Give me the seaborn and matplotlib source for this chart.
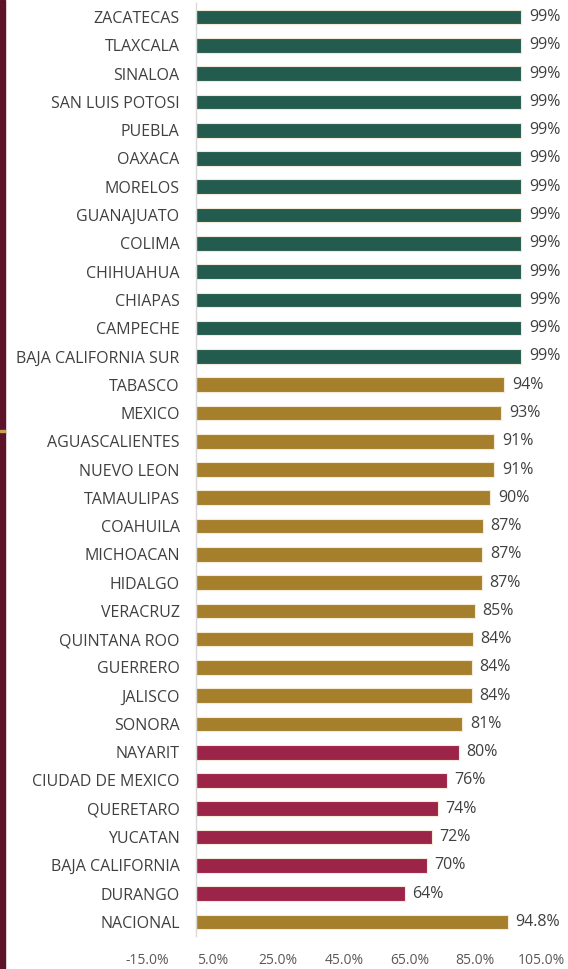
import matplotlib
matplotlib.use("Agg")
import matplotlib.pyplot as plt
import pandas as pd
import seaborn as sns
from matplotlib.patches import Rectangle
from matplotlib.ticker import FuncFormatter

states = [
    "ZACATECAS", "TLAXCALA", "SINALOA", "SAN LUIS POTOSI", "PUEBLA", "OAXACA",
    "MORELOS", "GUANAJUATO", "COLIMA", "CHIHUAHUA", "CHIAPAS", "CAMPECHE",
    "BAJA CALIFORNIA SUR", "TABASCO", "MEXICO", "AGUASCALIENTES", "NUEVO LEON",
    "TAMAULIPAS", "COAHUILA", "MICHOACAN", "HIDALGO", "VERACRUZ", "QUINTANA ROO",
    "GUERRERO", "JALISCO", "SONORA", "NAYARIT", "CIUDAD DE MEXICO", "QUERETARO",
    "YUCATAN", "BAJA CALIFORNIA", "DURANGO", "NACIONAL",
]
values = [
    99, 99, 99, 99, 99, 99, 99, 99, 99, 99, 99, 99, 99,
    93.8, 92.9, 90.8, 90.8, 89.6, 87.3, 87.1, 86.9, 84.8, 84.3, 84.0, 84.0, 81.0,
    80.0, 76.3, 73.6, 71.8, 70.3, 63.6, 94.8,
]
labels = [
    "99%", "99%", "99%", "99%", "99%", "99%", "99%", "99%", "99%", "99%", "99%", "99%", "99%",
    "94%", "93%", "91%", "91%", "90%", "87%", "87%", "87%", "85%", "84%", "84%", "84%", "81%",
    "80%", "76%", "74%", "72%", "70%", "64%", "94.8%",
]
groups = ["alto"] * 13 + ["medio"] * 13 + ["bajo"] * 6 + ["nacional"]
palette = {"alto": "#235B4E", "medio": "#A57F2C", "bajo": "#9D2449", "nacional": "#A57F2C"}

df = pd.DataFrame({"estado": states, "valor": values, "grupo": groups})

sns.set_style("white")
plt.rcParams["font.family"] = ["Open Sans", "DejaVu Sans"]

fig = plt.figure(figsize=(5.68, 9.69), dpi=100)
ax = fig.add_axes([147 / 568, 1 - 936 / 969, (541 - 147) / 568, (936 - 3) / 969])

sns.barplot(data=df, x="valor", y="estado", hue="grupo", palette=palette,
            dodge=False, legend=False, width=0.52, orient="h", saturation=1,
            edgecolor="#f3ead8", linewidth=0.8, ax=ax)

for i, (v, lab) in enumerate(zip(values, labels)):
    ax.text(v + 2.3, i, lab, va="center", ha="left", fontsize=11.5, color="#404040")

ax.set_xlim(-15, 105)
ax.set_ylim(len(states) - 0.5, -0.5)
ax.set_xticks([-15, 5, 25, 45, 65, 85, 105])
ax.xaxis.set_major_formatter(FuncFormatter(lambda x, _: f"{x:.1f}%"))
ax.tick_params(axis="x", labelsize=10, labelcolor="#595959", length=0, pad=12)
ax.tick_params(axis="y", labelsize=11.5, labelcolor="#404040", length=0, pad=12)
ax.set_xlabel("")
ax.set_ylabel("")

for s in ["top", "right", "bottom"]:
    ax.spines[s].set_visible(False)
ax.spines["left"].set_position(("data", 0))
ax.spines["left"].set_color("#d9d9d9")
ax.spines["left"].set_linewidth(1.0)

# dark strip on the left edge
fig.patches.append(Rectangle((0, 0), 5 / 568, 1, transform=fig.transFigure,
                             color="#5E1428", zorder=0))
fig.patches.append(Rectangle((0, 1 - 432 / 969), 5 / 568, 2 / 969, transform=fig.transFigure,
                             color="#C9A24E", zorder=1))

fig.savefig("out.png", dpi=100)
